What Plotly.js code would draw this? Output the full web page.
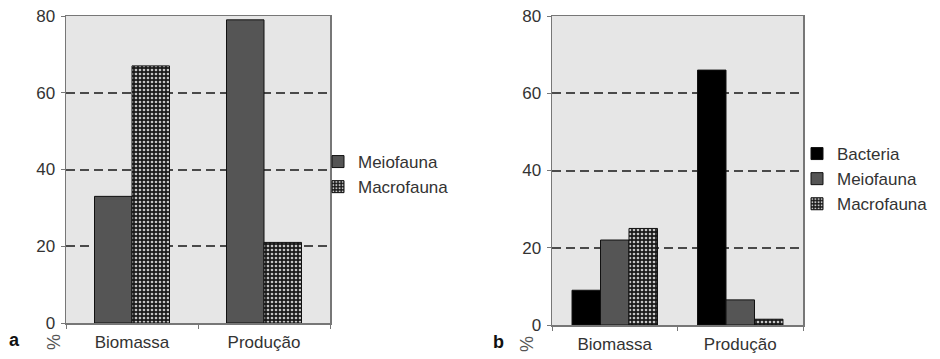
<!DOCTYPE html>
<html>
<head>
<meta charset="utf-8">
<script src="https://cdn.plot.ly/plotly-3.0.1.min.js"></script>
<style>html,body{margin:0;padding:0;background:#fff}#chart{width:940px;height:359px}</style>
</head>
<body>
<div id="chart"></div>
<script>
// ---- data ----
const categories = ["Biomassa", "Produção"];
const aMeiofauna = [33, 79];
const aMacrofauna = [67, 21];
const bBacteria = [9, 66];
const bMeiofauna = [22, 6.5];
const bMacrofauna = [25, 1.5];
const yTicks = [0, 20, 40, 60, 80];

const W = 940, H = 359;
const font = {family: "Liberation Sans, Arial, sans-serif", size: 17, color: "#333"};
const macroPattern = {shape: ".", bgcolor: "#1a1a1a", fgcolor: "#c4c4c4", size: 4, solidity: 0.35};
const line = {color: "#111", width: 1};

// bar widths/offsets in category units (style only)
const wA = 0.284, wB = 0.227;

const traces = [
  {type: "bar", name: "Meiofauna", x: categories, y: aMeiofauna, xaxis: "x", yaxis: "y",
   width: wA, offset: -wA, marker: {color: "#555", line: line}, legend: "legend"},
  {type: "bar", name: "Macrofauna", x: categories, y: aMacrofauna, xaxis: "x", yaxis: "y",
   width: wA, offset: 0, marker: {color: "#1a1a1a", pattern: macroPattern, line: line}, legend: "legend"},
  {type: "bar", name: "Bacteria", x: categories, y: bBacteria, xaxis: "x2", yaxis: "y2",
   width: wB, offset: -1.5 * wB, marker: {color: "#000", line: line}, legend: "legend2"},
  {type: "bar", name: "Meiofauna", x: categories, y: bMeiofauna, xaxis: "x2", yaxis: "y2",
   width: wB, offset: -0.5 * wB, marker: {color: "#555", line: line}, legend: "legend2"},
  {type: "bar", name: "Macrofauna", x: categories, y: bMacrofauna, xaxis: "x2", yaxis: "y2",
   width: wB, offset: 0.5 * wB, marker: {color: "#1a1a1a", pattern: macroPattern, line: line}, legend: "legend2"}
];

function xax(d0, d1, anchor) {
  return {domain: [d0 / W, d1 / W], anchor: anchor, type: "category",
    showline: true, linecolor: "#777", linewidth: 1.5, mirror: true,
    ticks: "outside", tickson: "boundaries", ticklen: 4, tickcolor: "#777",
    tickfont: font, showgrid: false, fixedrange: true, ticklabelstandoff: 3};
}
function yax(top, bottom, anchor) {
  return {domain: [(H - bottom) / H, (H - top) / H], anchor: anchor, range: [0, 80],
    tickvals: yTicks, showline: true, linecolor: "#777", linewidth: 1.5, mirror: true,
    ticks: "outside", ticklen: 4, tickcolor: "#777", tickfont: font,
    showgrid: true, gridcolor: "#4a4a4a", gridwidth: 2, griddash: "9px,5px",
    zeroline: false, fixedrange: true, ticklabelstandoff: 2};
}

const layout = {
  width: W, height: H,
  margin: {l: 0, r: 0, t: 0, b: 0},
  paper_bgcolor: "#fff", plot_bgcolor: "#e6e6e6",
  font: font,
  barmode: "overlay",
  showlegend: true,
  xaxis: xax(66, 330, "y"),
  yaxis: yax(16, 323, "x"),
  xaxis2: xax(552, 803, "y2"),
  yaxis2: yax(16, 325, "x2"),
  legend: {x: 318 / W, y: (H - 144) / H, xanchor: "left", yanchor: "top",
    bgcolor: "rgba(0,0,0,0)", font: font, tracegroupgap: 0, traceorder: "normal"},
  legend2: {x: 797 / W, y: (H - 136) / H, xanchor: "left", yanchor: "top",
    bgcolor: "rgba(0,0,0,0)", font: font, tracegroupgap: 0, traceorder: "normal"},
  annotations: [
    {text: "<b>a</b>", xref: "paper", yref: "paper", x: 14 / W, y: (H - 340) / H,
     xanchor: "center", yanchor: "middle",
     showarrow: false, font: {family: font.family, size: 18, color: "#111"}},
    {text: "<b>b</b>", xref: "paper", yref: "paper", x: 498 / W, y: (H - 342) / H,
     xanchor: "center", yanchor: "middle",
     showarrow: false, font: {family: font.family, size: 18, color: "#111"}},
    {text: "%", xref: "paper", yref: "paper", x: 54 / W, y: (H - 342) / H, textangle: -90,
     xanchor: "center", yanchor: "middle",
     showarrow: false, font: {family: font.family, size: 18, color: "#555"}},
    {text: "%", xref: "paper", yref: "paper", x: 527 / W, y: (H - 344) / H, textangle: -90,
     xanchor: "center", yanchor: "middle",
     showarrow: false, font: {family: font.family, size: 18, color: "#555"}}
  ]
};

Plotly.newPlot("chart", traces, layout, {displayModeBar: false, staticPlot: true});
</script>
</body>
</html>
